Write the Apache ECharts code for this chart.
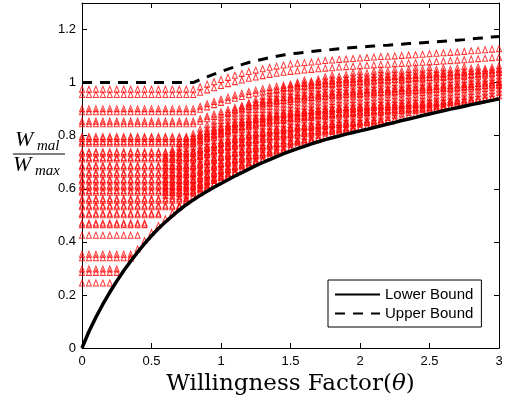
<!DOCTYPE html>
<html><head><meta charset="utf-8">
<script src="https://cdn.jsdelivr.net/npm/echarts@6/dist/echarts.min.js"></script>
<style>html,body{margin:0;padding:0;background:#fff}#c{width:511px;height:403px}</style>
</head><body><div id="c"></div>
<script>
// x grid of the willingness factor (theta)
const thetaGrid = [0,0.05,0.1,0.15,0.2,0.25,0.3,0.35,0.4,0.45,0.5,0.55,0.6,0.65,0.7,0.75,0.8,0.85,0.9,0.95,
  1,1.05,1.1,1.15,1.2,1.25,1.3,1.35,1.4,1.45,1.5,1.55,1.6,1.65,1.7,1.75,1.8,1.85,1.9,1.95,
  2,2.05,2.1,2.15,2.2,2.25,2.3,2.35,2.4,2.45,2.5,2.55,2.6,2.65,2.7,2.75,2.8,2.85,2.9,2.95,3];
// Lower Bound curve (read at each theta of the grid)
const lowerBound = [0,0.062,0.116,0.165,0.21,0.252,0.291,0.327,0.361,0.393,0.423,0.45,0.475,0.498,0.52,0.54,0.558,0.575,0.591,0.606,
  0.62,0.634,0.648,0.661,0.674,0.687,0.699,0.71,0.721,0.732,0.742,0.751,0.76,0.769,0.777,0.785,0.792,0.799,0.806,0.812,
  0.818,0.824,0.831,0.837,0.844,0.85,0.857,0.863,0.869,0.876,0.882,0.888,0.894,0.9,0.905,0.911,0.917,0.922,0.928,0.933,0.939];
// Upper Bound curve (read at each theta of the grid)
const upperBound = [1,1,1,1,1,1,1,1,1,1,1,1,1,1,1,1,1,1.011,1.022,1.032,
  1.042,1.051,1.06,1.068,1.076,1.082,1.088,1.094,1.099,1.104,1.108,1.111,1.114,1.117,1.12,1.123,1.125,1.128,1.13,1.132,
  1.134,1.136,1.138,1.14,1.141,1.143,1.145,1.147,1.148,1.15,1.152,1.154,1.156,1.158,1.16,1.162,1.165,1.167,1.169,1.172,1.174];
// rows of triangles: level on the flat part, last theta of the row, rise relative to the upper bound
const rowLevels = [0.975,0.955,0.902,0.89,0.855,0.845,0.797,0.79,0.778,0.772,0.74,0.734,0.718,0.712,0.688,0.682,0.661,0.655,
  0.635,0.629,0.613,0.607,0.593,0.587,0.563,0.557,0.538,0.532,0.508,0.502,0.471,0.465,0.425,0.353,0.34,0.298,0.285,0.245];
const rowEnds = [3,3,3,3,3,3,3,3,3,3,3,3,3,3,3,3,3,3,3,3,3,3,3,3,3,3,3,3,0.55,0.55,0.45,0.45,0.4,0.35,0.35,0.25,0.25,0.2];
const rowRates = [0.88,0.81,0.85,0.85,0.85,0.85,0.85,0.85,0.85,0.85,0.85,0.85,0.85,0.85,0.85,0.85,0.85,0.85,0.85,0.85,
  0.85,0.85,0.85,0.85,0.85,0.85,0.85,0.85,0.85,0.85,0.85,0.85,0.85,0.85,0.85,0.85,0.85,0.85];
// triangles packed above the lower bound: height above it, first and last theta
const bandOffsets = [0.012,0.025,0.037,0.05,0.062,0.075,0.087,0.1,0.112,0.125,0.137,0.15,0.162,0.175,0.187,0.2,0.212,0.225,0.237,0.25];
const bandStarts = [0.35,0.75,0.75,0.7,0.7,0.65,0.65,0.6,0.6,0.6,0.6,0.6,0.6,0.6,0.6,0.6,0.6,0.6,0.6,0.6];
const bandEnds = [3,3,3,3,3,3,3,3,3,3,2.85,2.75,2.6,2.5,2.4,2.25,2.15,2,1.8,1.6];
const legendNames = ['Lower Bound','Upper Bound'];

const cloud = [];
rowLevels.forEach((lv, k) => {
  thetaGrid.forEach((t, j) => {
    if (t > rowEnds[k] + 1e-9) return;
    const y = lv + rowRates[k] * (upperBound[j] - 1);
    if (y < lowerBound[j] + 0.01) return;
    cloud.push([t, y]);
  });
});
bandOffsets.forEach((d, m) => {
  thetaGrid.forEach((t, j) => {
    if (t < bandStarts[m] - 1e-9 || t > bandEnds[m] + 1e-9) return;
    cloud.push([t, lowerBound[j] + d]);
  });
});

const chart = echarts.init(document.getElementById('c'), null, {renderer: 'canvas'});
const axisCommon = {
  axisLine: {onZero: false, lineStyle: {color: '#000', width: 1}},
  axisTick: {inside: true, length: 5, lineStyle: {color: '#000', width: 1}},
  splitLine: {show: false}
};
const tickFont = {color: '#000', fontSize: 13, fontFamily: 'Liberation Sans'};
chart.setOption({
  animation: false,
  backgroundColor: '#fff',
  grid: {left: 82, right: 12, top: 3, bottom: 55, containLabel: false},
  xAxis: [
    Object.assign({type: 'value', min: 0, max: 3, interval: 0.5, position: 'bottom',
      axisLabel: Object.assign({margin: 7, formatter: v => String(v)}, tickFont),
      name: '{a|Willingness Factor(}{b|θ}{a|)}', nameLocation: 'middle', nameGap: 23,
      nameTextStyle: {rich: {
        a: {fontFamily: 'DejaVu Serif', fontSize: 23, color: '#000'},
        b: {fontFamily: 'DejaVu Serif', fontStyle: 'italic', fontSize: 23, color: '#000'}}}
    }, axisCommon),
    Object.assign({type: 'value', min: 0, max: 3, interval: 0.5, position: 'top',
      axisLabel: {show: false}}, axisCommon)
  ],
  yAxis: [
    Object.assign({type: 'value', min: 0, max: 1.3, interval: 0.2, position: 'left',
      axisLabel: Object.assign({margin: 6, formatter: v => (v > 1.25 ? '' : String(+v.toFixed(1)))}, tickFont)
    }, axisCommon),
    Object.assign({type: 'value', min: 0, max: 1.3, interval: 0.2, position: 'right',
      axisLabel: {show: false}}, axisCommon)
  ],
  legend: {
    data: legendNames, orient: 'vertical', left: 328, top: 280,
    itemWidth: 45, itemHeight: 14, itemGap: 4, padding: [7, 8, 6, 6],
    symbolSize: 0, itemStyle: {opacity: 0, borderWidth: 0},
    borderColor: '#000', borderWidth: 1, backgroundColor: '#fff', borderRadius: 0,
    textStyle: {fontFamily: 'Liberation Sans', fontSize: 15, color: '#000'},
    selectedMode: false
  },
  graphic: [
    {type: 'text', x: 15, y: 140, style: {text: 'W', fontFamily: 'Liberation Serif', fontStyle: 'italic', fontSize: 22, fill: '#000', verticalAlign: 'middle'}},
    {type: 'text', x: 37, y: 146, style: {text: 'mal', fontFamily: 'Liberation Serif', fontStyle: 'italic', fontSize: 15, fill: '#000', verticalAlign: 'middle'}},
    {type: 'line', shape: {x1: 13, y1: 154, x2: 65, y2: 154}, style: {stroke: '#000', lineWidth: 1}},
    {type: 'text', x: 13, y: 165, style: {text: 'W', fontFamily: 'Liberation Serif', fontStyle: 'italic', fontSize: 22, fill: '#000', verticalAlign: 'middle'}},
    {type: 'text', x: 35, y: 171, style: {text: 'max', fontFamily: 'Liberation Serif', fontStyle: 'italic', fontSize: 15, fill: '#000', verticalAlign: 'middle'}}
  ],
  series: [
    {type: 'scatter', name: 'samples', data: cloud, symbol: 'triangle', symbolSize: [5, 6],
      itemStyle: {color: 'rgba(255,0,0,0)', borderColor: '#ff0000', borderWidth: 1},
      silent: true, z: 2, progressive: 0, large: false},
    {type: 'line', name: legendNames[0], data: thetaGrid.map((t, j) => [t, lowerBound[j]]), smooth: false,
      symbol: 'none', showSymbol: false, lineStyle: {color: '#000', width: 3.5, join: 'round'}, itemStyle: {color: '#000'}, z: 3, silent: true},
    {type: 'line', name: legendNames[1], data: thetaGrid.map((t, j) => [t, upperBound[j]]),
      symbol: 'none', showSymbol: false, lineStyle: {color: '#000', width: 3, type: [10, 8]}, itemStyle: {color: '#000'}, z: 3, silent: true}
  ]
});
</script>
</body></html>
